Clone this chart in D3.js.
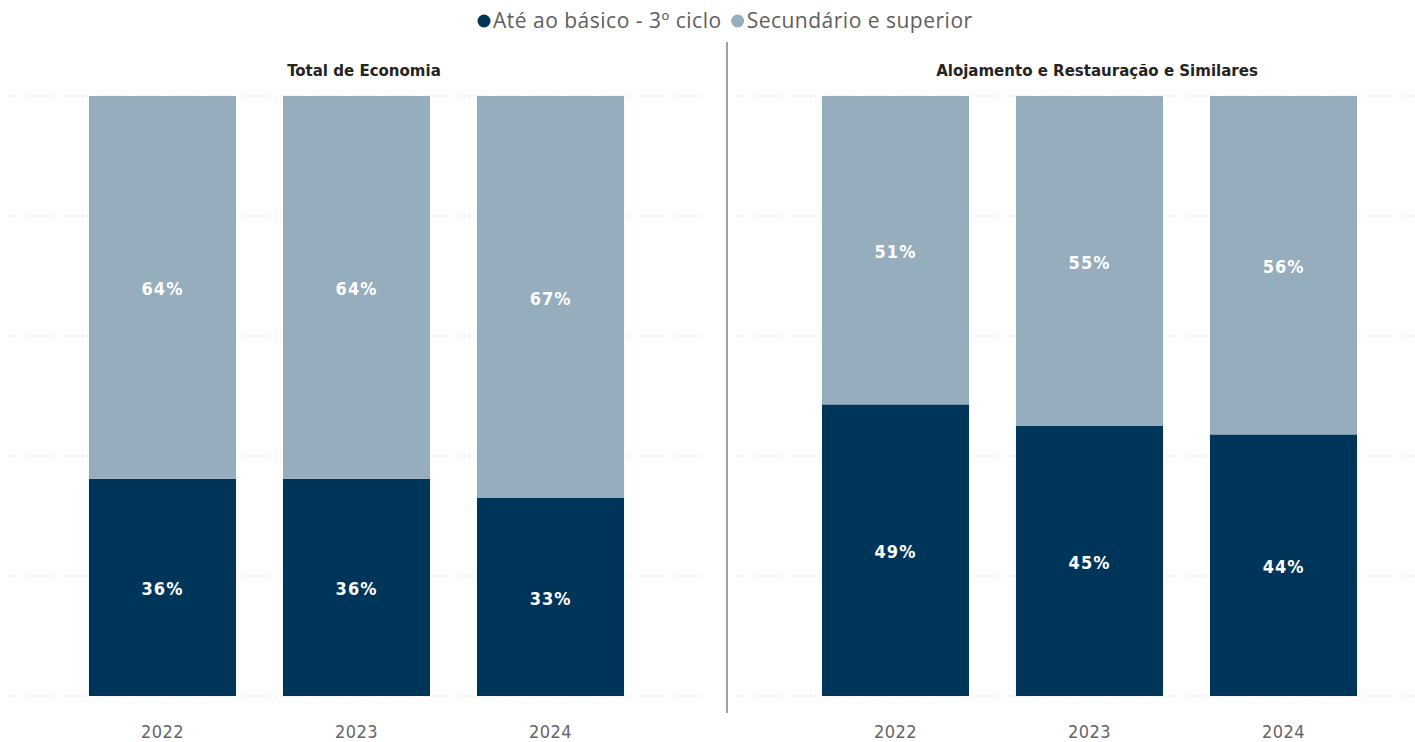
<!DOCTYPE html>
<html>
<head>
<meta charset="utf-8">
<script src="https://cdn.jsdelivr.net/npm/d3@7"></script>
<style>
  body { margin: 0; background: #fff; }
  svg { display: block; }
</style>
</head>
<body>
<svg width="1415" height="742"></svg>
<script>
const years = ['2022', '2023', '2024'];
const series = ['Até ao básico - 3º ciclo', 'Secundário e superior'];
const panels = ['Total de Economia', 'Alojamento e Restauração e Similares'];
const basico = [[36.2, 36.2, 33.0], [48.6, 45.0, 43.6]];
const secundario = [[63.8, 63.8, 67.0], [51.4, 55.0, 56.4]];
const labelsBasico = [['36%', '36%', '33%'], ['49%', '45%', '44%']];
const labelsSecundario = [['64%', '64%', '67%'], ['51%', '55%', '56%']];

const svg = d3.select('svg');
const color = d3.scaleOrdinal().domain(series).range(['#00355a', '#95adbc']);

const yScale = d3.scaleLinear().domain([0, 100]).range([696, 96]);

// legend
const legend = svg.append('g');
let lx = 484;
series.forEach((s, i) => {
  legend.append('circle')
    .attr('cx', lx).attr('cy', 21).attr('r', 6.5)
    .attr('fill', color(s));
  const t = legend.append('text')
    .attr('x', lx + 9).attr('y', 28)
    .attr('font-family', '"Open Sans", sans-serif')
    .attr('font-size', 21)
    .attr('letter-spacing', 0.5)
    .attr('fill', '#605e5c')
    .text(s);
  lx += 9 + t.node().getComputedTextLength() + 16;
});

// divider
svg.append('line')
  .attr('x1', 727).attr('x2', 727).attr('y1', 42).attr('y2', 713)
  .attr('stroke', '#a0a0a0').attr('stroke-width', 2);

const panelX = [10, 743];
const gridSpan = [[10, 703], [738, 1415]];

panels.forEach((p, pi) => {
  const x = d3.scaleBand()
    .domain(years)
    .range([panelX[pi], panelX[pi] + 693])
    .paddingInner(0.242)
    .paddingOuter(0.407);

  const g = svg.append('g');

  // grid
  g.selectAll('.grid').data(yScale.ticks(5)).enter().append('line')
    .attr('x1', gridSpan[pi][0]).attr('x2', gridSpan[pi][1])
    .attr('y1', d => yScale(d)).attr('y2', d => yScale(d))
    .attr('stroke', '#d6d6d6').attr('stroke-width', 1.2)
    .attr('stroke-dasharray', '1.5,3');

  // title
  g.append('text')
    .attr('x', pi === 0 ? 364 : 1097)
    .attr('y', 76)
    .attr('text-anchor', 'middle')
    .attr('font-family', '"DejaVu Sans Condensed", "DejaVu Sans", sans-serif')
    .attr('font-weight', 'bold')
    .attr('font-size', 16.7)
    .attr('fill', '#252423')
    .text(p);

  const rows = years.map((yr, i) => ({ year: yr, b: basico[pi][i], s: secundario[pi][i], lb: labelsBasico[pi][i], ls: labelsSecundario[pi][i] }));

  // bars
  g.selectAll('.bar-b').data(rows).enter().append('rect')
    .attr('x', d => x(d.year)).attr('width', x.bandwidth())
    .attr('y', d => yScale(d.b)).attr('height', d => yScale(0) - yScale(d.b))
    .attr('fill', color(series[0]));
  g.selectAll('.bar-s').data(rows).enter().append('rect')
    .attr('x', d => x(d.year)).attr('width', x.bandwidth())
    .attr('y', d => yScale(d.b + d.s)).attr('height', d => yScale(d.b) - yScale(d.b + d.s))
    .attr('fill', color(series[1]));

  // labels
  const labelStyle = sel => sel
    .attr('text-anchor', 'middle')
    .attr('dominant-baseline', 'central')
    .attr('font-family', '"DejaVu Sans Condensed", "DejaVu Sans", sans-serif')
    .attr('font-weight', 'bold')
    .attr('font-size', 18)
    .attr('letter-spacing', 1)
    .attr('fill', '#ffffff');
  g.selectAll('.lb').data(rows).enter().append('text')
    .attr('x', d => x(d.year) + x.bandwidth() / 2)
    .attr('y', d => (yScale(0) + yScale(d.b)) / 2 + 1)
    .call(labelStyle)
    .text(d => d.lb);
  g.selectAll('.ls').data(rows).enter().append('text')
    .attr('x', d => x(d.year) + x.bandwidth() / 2)
    .attr('y', d => (yScale(d.b) + yScale(d.b + d.s)) / 2 + 1)
    .call(labelStyle)
    .text(d => d.ls);

  // x axis
  const xAxis = d3.axisBottom(x).tickSize(0).tickPadding(0);
  const xAxisG = g.append('g').attr('transform', 'translate(0,725)').call(xAxis);
  xAxisG.select('.domain').remove();
  xAxisG.selectAll('text')
    .attr('dy', '0.71em')
    .attr('font-family', '"DejaVu Sans Condensed", "DejaVu Sans", sans-serif')
    .attr('font-size', 18)
    .attr('letter-spacing', 0.5)
    .attr('fill', '#666666');
});
</script>
</body>
</html>
